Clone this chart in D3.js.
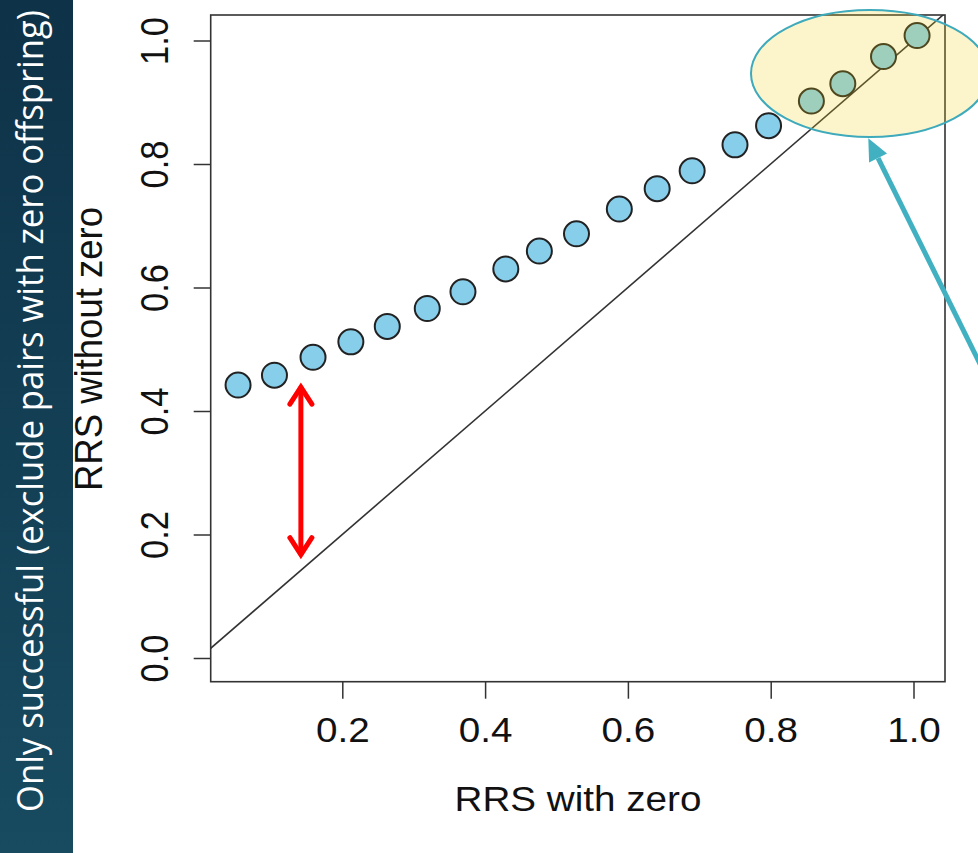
<!DOCTYPE html>
<meta charset="utf-8">
<style>
    body { margin: 0; background: #fff; }
    text { font-family: "Liberation Sans", Arial, sans-serif; fill: #111; }
    .tick line { stroke: #333; stroke-width: 1.5; }
</style>
<svg></svg>
<script src="https://d3js.org/d3.v7.min.js"></script>
<script>

    // values
    var rrsWithZero = [0.054, 0.105, 0.159, 0.212, 0.263, 0.319, 0.369, 0.429, 0.476, 0.528,
                       0.588, 0.641, 0.690, 0.750, 0.797, 0.857, 0.901, 0.958, 1.005];
    var rrsWithoutZero = [0.442, 0.458, 0.487, 0.512, 0.537, 0.566, 0.593, 0.630, 0.659, 0.687,
                          0.727, 0.760, 0.789, 0.831, 0.862, 0.902, 0.930, 0.974, 1.008];
    var xTicks = [0.2, 0.4, 0.6, 0.8, 1.0];
    var yTicks = [0.0, 0.2, 0.4, 0.6, 0.8, 1.0];
    var sideTitle = "Only successful (exclude pairs with zero offspring)";

    var width = 978,
        height = 853;
    var box = { left: 210.7, right: 945, top: 15, bottom: 681.7 };
    var stretch = 1.12; // the slide image is a bit wider than tall

    var svg = d3.select("svg")
        .attr("width", width)
        .attr("height", height);

    var x = d3.scaleLinear().domain([0, 1]).range([199.5, 913.5]);
    var y = d3.scaleLinear().domain([0, 1]).range([658, 40.5]);

    // left title bar
    var grad = svg.append("defs").append("linearGradient")
        .attr("id", "bar").attr("x1", 0).attr("y1", 0).attr("x2", 0).attr("y2", 1);
    grad.append("stop").attr("offset", "0%").attr("stop-color", "#0e3248");
    grad.append("stop").attr("offset", "100%").attr("stop-color", "#184b60");
    svg.append("rect").attr("x", 0).attr("y", 0).attr("width", 73).attr("height", height)
        .attr("fill", "url(#bar)");
    svg.append("text")
        .attr("transform", "translate(43,411) scale(1.08,1) rotate(-90)")
        .attr("text-anchor", "middle")
        .attr("textLength", 802)
        .attr("lengthAdjust", "spacingAndGlyphs")
        .style("font-family", "'Open Sans', 'Noto Sans', sans-serif")
        .style("font-size", "33px")
        .style("fill", "#fff")
        .text(sideTitle);

    // diagonal y = x, clipped to the box
    svg.append("clipPath").attr("id", "plot").append("rect")
        .attr("x", box.left).attr("y", box.top)
        .attr("width", box.right - box.left).attr("height", box.bottom - box.top);
    svg.append("line")
        .attr("clip-path", "url(#plot)")
        .attr("x1", x(0)).attr("y1", y(0))
        .attr("x2", x(1.1)).attr("y2", y(1.1))
        .attr("stroke", "#333").attr("stroke-width", 1.6);

    // axes
    var xAxis = svg.append("g")
        .attr("transform", "translate(0," + box.bottom + ")")
        .call(d3.axisBottom(x).tickValues(xTicks).tickSize(17).tickFormat(d3.format(".1f")));
    xAxis.select(".domain").remove();
    xAxis.selectAll("text")
        .attr("y", 0).attr("dy", 0)
        .attr("transform", "translate(0," + (742 - box.bottom) + ") scale(" + stretch + ",1)")
        .style("font-size", "34.5px").attr("fill", "#111");

    var yAxis = svg.append("g")
        .attr("transform", "translate(" + box.left + ",0)")
        .call(d3.axisLeft(y).tickValues(yTicks).tickSize(17).tickFormat(d3.format(".1f")));
    yAxis.select(".domain").remove();
    yAxis.selectAll("text")
        .attr("x", 0).attr("dy", 0)
        .attr("text-anchor", "middle")
        .attr("transform", "translate(-42.7,0) scale(" + stretch + ",1) rotate(-90)")
        .style("font-size", "34.5px").attr("fill", "#111");

    // box
    svg.append("rect")
        .attr("x", box.left).attr("y", box.top)
        .attr("width", box.right - box.left).attr("height", box.bottom - box.top)
        .attr("fill", "none").attr("stroke", "#333").attr("stroke-width", 1.6);

    // axis titles
    svg.append("text")
        .attr("transform", "translate(578,811) scale(" + stretch + ",1)")
        .attr("text-anchor", "middle")
        .style("font-size", "34.5px")
        .text("RRS with zero");
    svg.append("text")
        .attr("transform", "translate(102,349) scale(1.06,1) rotate(-90)")
        .attr("text-anchor", "middle")
        .style("font-size", "36.5px")
        .text("RRS without zero");

    // points
    var pts = rrsWithZero.map(function (d, i) { return { x: d, y: rrsWithoutZero[i] }; });
    svg.append("g").selectAll("circle")
        .data(pts)
        .enter().append("circle")
        .attr("cx", function (d) { return x(d.x); })
        .attr("cy", function (d) { return y(d.y); })
        .attr("r", 12.5)
        .attr("fill", "#87ceeb")
        .attr("stroke", "#222")
        .attr("stroke-width", 2);

    // red gap arrow
    var gx = x(0.142), gTop = y(0.442), gBot = y(0.164);
    var red = svg.append("g").attr("stroke", "#ff0000").attr("stroke-width", 5)
        .attr("fill", "none").attr("stroke-linecap", "round");
    red.append("line").attr("x1", gx).attr("y1", gTop + 3).attr("x2", gx).attr("y2", gBot - 3);
    red.append("path").attr("d", "M" + (gx - 11) + "," + (gTop + 19) + "L" + gx + "," + (gTop + 2) + "L" + (gx + 11) + "," + (gTop + 19));
    red.append("path").attr("d", "M" + (gx - 11) + "," + (gBot - 19) + "L" + gx + "," + (gBot - 2) + "L" + (gx + 11) + "," + (gBot - 19));

    // highlight ellipse
    svg.append("ellipse")
        .attr("cx", 870).attr("cy", 73.5).attr("rx", 119).attr("ry", 63.5)
        .attr("fill", "rgb(241,209,24)").attr("fill-opacity", 0.22)
        .attr("stroke", "#3eaabb").attr("stroke-width", 2);

    // teal pointer arrow
    var tip = [868.3, 138.3], tail = [985, 374];
    var ang = Math.atan2(tail[1] - tip[1], tail[0] - tip[0]);
    var hl = 22, hw = 10;
    var bx = tip[0] + hl * Math.cos(ang), by = tip[1] + hl * Math.sin(ang);
    svg.append("line")
        .attr("x1", bx).attr("y1", by).attr("x2", tail[0]).attr("y2", tail[1])
        .attr("stroke", "#41b0c1").attr("stroke-width", 5);
    svg.append("path")
        .attr("d", "M" + tip[0] + "," + tip[1] +
            "L" + (bx - hw * Math.sin(ang)) + "," + (by + hw * Math.cos(ang)) +
            "L" + (bx + hw * Math.sin(ang)) + "," + (by - hw * Math.cos(ang)) + "Z")
        .attr("fill", "#41b0c1");

</script>
